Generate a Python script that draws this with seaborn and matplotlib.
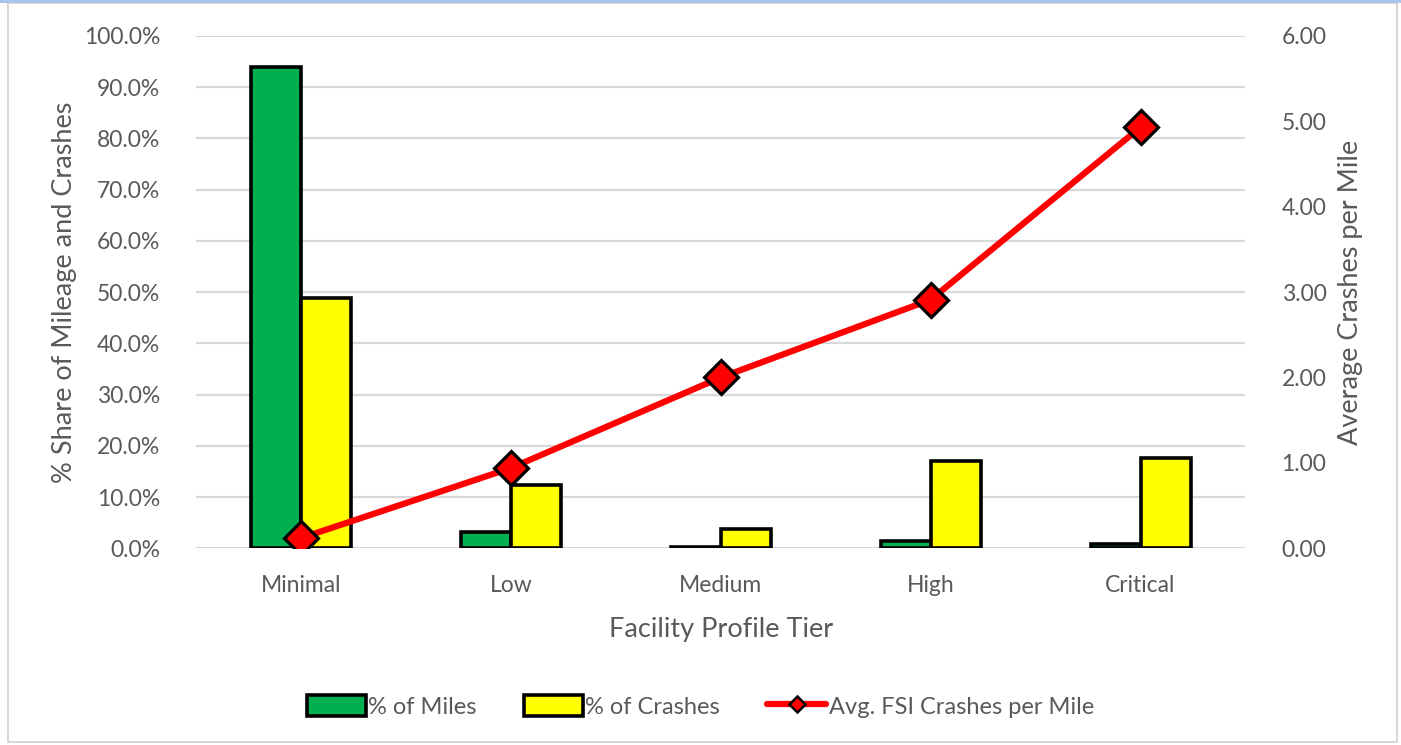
import numpy as np
import pandas as pd
import matplotlib
matplotlib.use("Agg")
import matplotlib.pyplot as plt
from matplotlib.patches import Patch, Rectangle
from matplotlib.lines import Line2D
from matplotlib.ticker import FuncFormatter, MultipleLocator
import seaborn as sns

tiers = ["Minimal", "Low", "Medium", "High", "Critical"]
pct_miles = [93.9, 3.1, 0.2, 1.4, 0.8]
pct_crashes = [48.8, 12.3, 3.7, 17.0, 17.6]
avg_fsi_per_mile = [0.12, 0.94, 2.00, 2.91, 4.93]

series_names = ["% of Miles", "% of Crashes", "Avg. FSI Crashes per Mile"]
bar_colors = ["#00b050", "#ffff00"]
line_color = "#ff0000"
text_color = "#595959"
grid_color = "#d9d9d9"

sns.set_theme(style="white")
plt.rcParams["font.family"] = ["Lato", "DejaVu Sans"]

df = pd.DataFrame({
    "Tier": tiers * 2,
    "Series": [series_names[0]] * len(tiers) + [series_names[1]] * len(tiers),
    "Value": pct_miles + pct_crashes,
})

fig = plt.figure(figsize=(14.01, 7.45), dpi=100)
ax = fig.add_axes([0.140, 0.264, 0.749, 0.688])

sns.barplot(data=df, x="Tier", y="Value", hue="Series", order=tiers,
            hue_order=series_names[:2], palette=bar_colors, width=0.476,
            edgecolor="black", linewidth=2.6, saturation=1, ax=ax, legend=False)

ax.set_ylim(0, 100)
ax.set_xlim(-0.5, len(tiers) - 0.5)
ax.yaxis.set_major_locator(MultipleLocator(10))
ax.yaxis.set_major_formatter(FuncFormatter(lambda v, p: f"{v:.1f}%"))
ax.grid(axis="y", color=grid_color, linewidth=1.6)
ax.set_axisbelow(True)
for s in ax.spines.values():
    s.set_visible(False)
ax.tick_params(axis="both", length=0, labelsize=16.5, colors=text_color)
ax.tick_params(axis="y", pad=26)
ax.tick_params(axis="x", pad=19)
ax.set_xlabel("Facility Profile Tier", fontsize=19.5, color=text_color, labelpad=15)
ax.set_ylabel("% Share of Mileage and Crashes", fontsize=19.5, color=text_color, labelpad=5)

ax2 = ax.twinx()
ax2.plot(np.arange(len(tiers)), avg_fsi_per_mile, color=line_color, linewidth=4.5,
         marker="D", markersize=17, markerfacecolor=line_color,
         markeredgecolor="black", markeredgewidth=2.3, zorder=5)
ax2.set_ylim(0, 6)
ax2.yaxis.set_major_locator(MultipleLocator(1))
ax2.yaxis.set_major_formatter(FuncFormatter(lambda v, p: f"{v:.2f}"))
for s in ax2.spines.values():
    s.set_visible(False)
ax2.tick_params(axis="y", length=0, labelsize=16.5, colors=text_color, pad=26)
ax2.set_ylabel("Average Crashes per Mile", fontsize=19.5, color=text_color, labelpad=8)
ax2.grid(False)

handles = [
    Patch(facecolor=bar_colors[0], edgecolor="black", linewidth=2.6),
    Patch(facecolor=bar_colors[1], edgecolor="black", linewidth=2.6),
    Line2D([0], [0], color=line_color, linewidth=4.5, marker="D", markersize=8,
           markerfacecolor=line_color, markeredgecolor="black", markeredgewidth=1.8),
]
leg = fig.legend(handles, series_names, loc="center", bbox_to_anchor=(0.5, 0.052),
                 ncol=3, frameon=False, fontsize=17, handlelength=2.5,
                 handleheight=1.0, handletextpad=0.1, columnspacing=2.0)
for t in leg.get_texts():
    t.set_color(text_color)

# chart frame
fig.patches.append(Rectangle((8 / 1401, 3 / 745), 1389 / 1401, 739 / 745,
                             transform=fig.transFigure, fill=False,
                             edgecolor="#d0d0d0", linewidth=1.2))
fig.patches.append(Rectangle((0, 742 / 745), 1, 3 / 745, transform=fig.transFigure,
                             facecolor="#a9c6ea", edgecolor="none"))

fig.savefig("out.png", dpi=100)
